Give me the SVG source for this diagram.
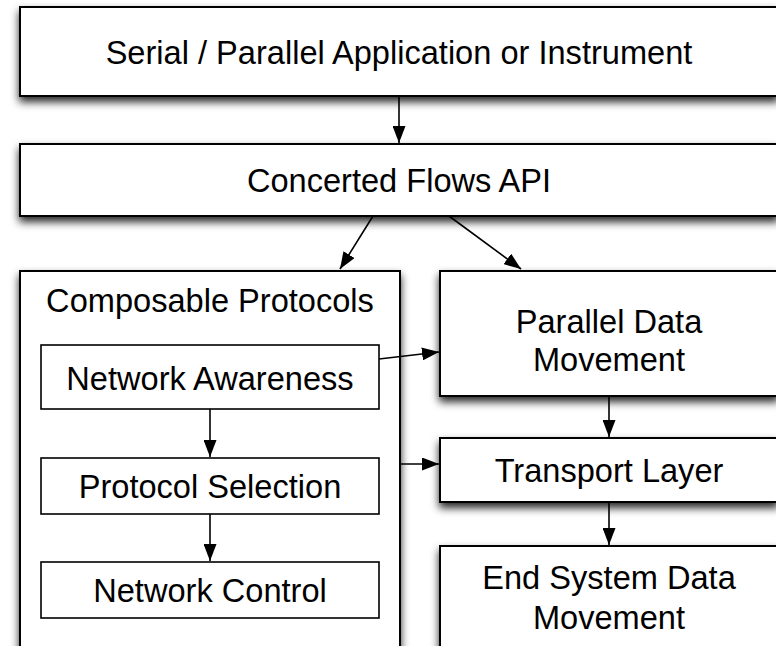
<svg xmlns="http://www.w3.org/2000/svg" width="776" height="646" viewBox="0 0 776 646">
  <defs>
    <filter id="shadow" x="-10%" y="-20%" width="120%" height="160%">
      <feDropShadow dx="0" dy="5" stdDeviation="4" flood-color="#000" flood-opacity="0.85"/>
    </filter>
    <marker id="arrow" viewBox="0 0 17 13" refX="17" refY="6.5" markerWidth="17" markerHeight="13" markerUnits="userSpaceOnUse" orient="auto">
      <path d="M0,0 L17,6.5 L0,13 z" fill="#000"/>
    </marker>
  </defs>
  <style>
    .box { fill: #fff; stroke: #000; stroke-width: 2; filter: url(#shadow); }
    .inner { fill: #fff; stroke: #000; stroke-width: 1.6; }
    .lbl { font-family: "Liberation Sans", Arial, Helvetica, sans-serif; font-size: 32.6px; fill: #000; text-anchor: middle; }
    .conn { stroke: #000; stroke-width: 1.6; fill: none; marker-end: url(#arrow); }
  </style>
  <rect width="776" height="646" fill="#fff"/>

  <g id="app">
    <rect class="box" x="20" y="7" width="758" height="89"/>
    <text class="lbl" x="399" y="64">Serial / Parallel Application or Instrument</text>
  </g>

  <g id="api">
    <rect class="box" x="20" y="144" width="758" height="72"/>
    <text class="lbl" x="399" y="192">Concerted Flows API</text>
  </g>

  <g id="composable">
    <rect class="box" x="20" y="271" width="380" height="400"/>
    <text class="lbl" x="210" y="312">Composable Protocols</text>
  </g>

  <g id="awareness">
    <rect class="inner" x="41" y="345" width="338" height="64"/>
    <text class="lbl" x="210" y="390">Network Awareness</text>
  </g>

  <g id="selection">
    <rect class="inner" x="41" y="458" width="338" height="56"/>
    <text class="lbl" x="210" y="498">Protocol Selection</text>
  </g>

  <g id="control">
    <rect class="inner" x="41" y="562" width="338" height="56"/>
    <text class="lbl" x="210" y="602">Network Control</text>
  </g>

  <g id="parallel">
    <rect class="box" x="440" y="271" width="338" height="125"/>
    <text class="lbl" x="609" y="333">Parallel Data</text>
    <text class="lbl" x="609" y="371">Movement</text>
  </g>

  <g id="transport">
    <rect class="box" x="440" y="438" width="338" height="64"/>
    <text class="lbl" x="609" y="482">Transport Layer</text>
  </g>

  <g id="endsystem">
    <rect class="box" x="440" y="546" width="338" height="130"/>
    <text class="lbl" x="609" y="589">End System Data</text>
    <text class="lbl" x="609" y="629">Movement</text>
  </g>

  <g id="connectors">
    <line class="conn" x1="399" y1="96" x2="399" y2="143"/>
    <line class="conn" x1="373" y1="216" x2="340" y2="269"/>
    <line class="conn" x1="449" y1="216" x2="521" y2="269"/>
    <line class="conn" x1="379" y1="359" x2="439" y2="352"/>
    <line class="conn" x1="400" y1="464" x2="439" y2="464"/>
    <line class="conn" x1="210" y1="409" x2="210" y2="457"/>
    <line class="conn" x1="210" y1="514" x2="210" y2="561"/>
    <line class="conn" x1="609" y1="396" x2="609" y2="437"/>
    <line class="conn" x1="609" y1="502" x2="609" y2="545"/>
  </g>
</svg>
